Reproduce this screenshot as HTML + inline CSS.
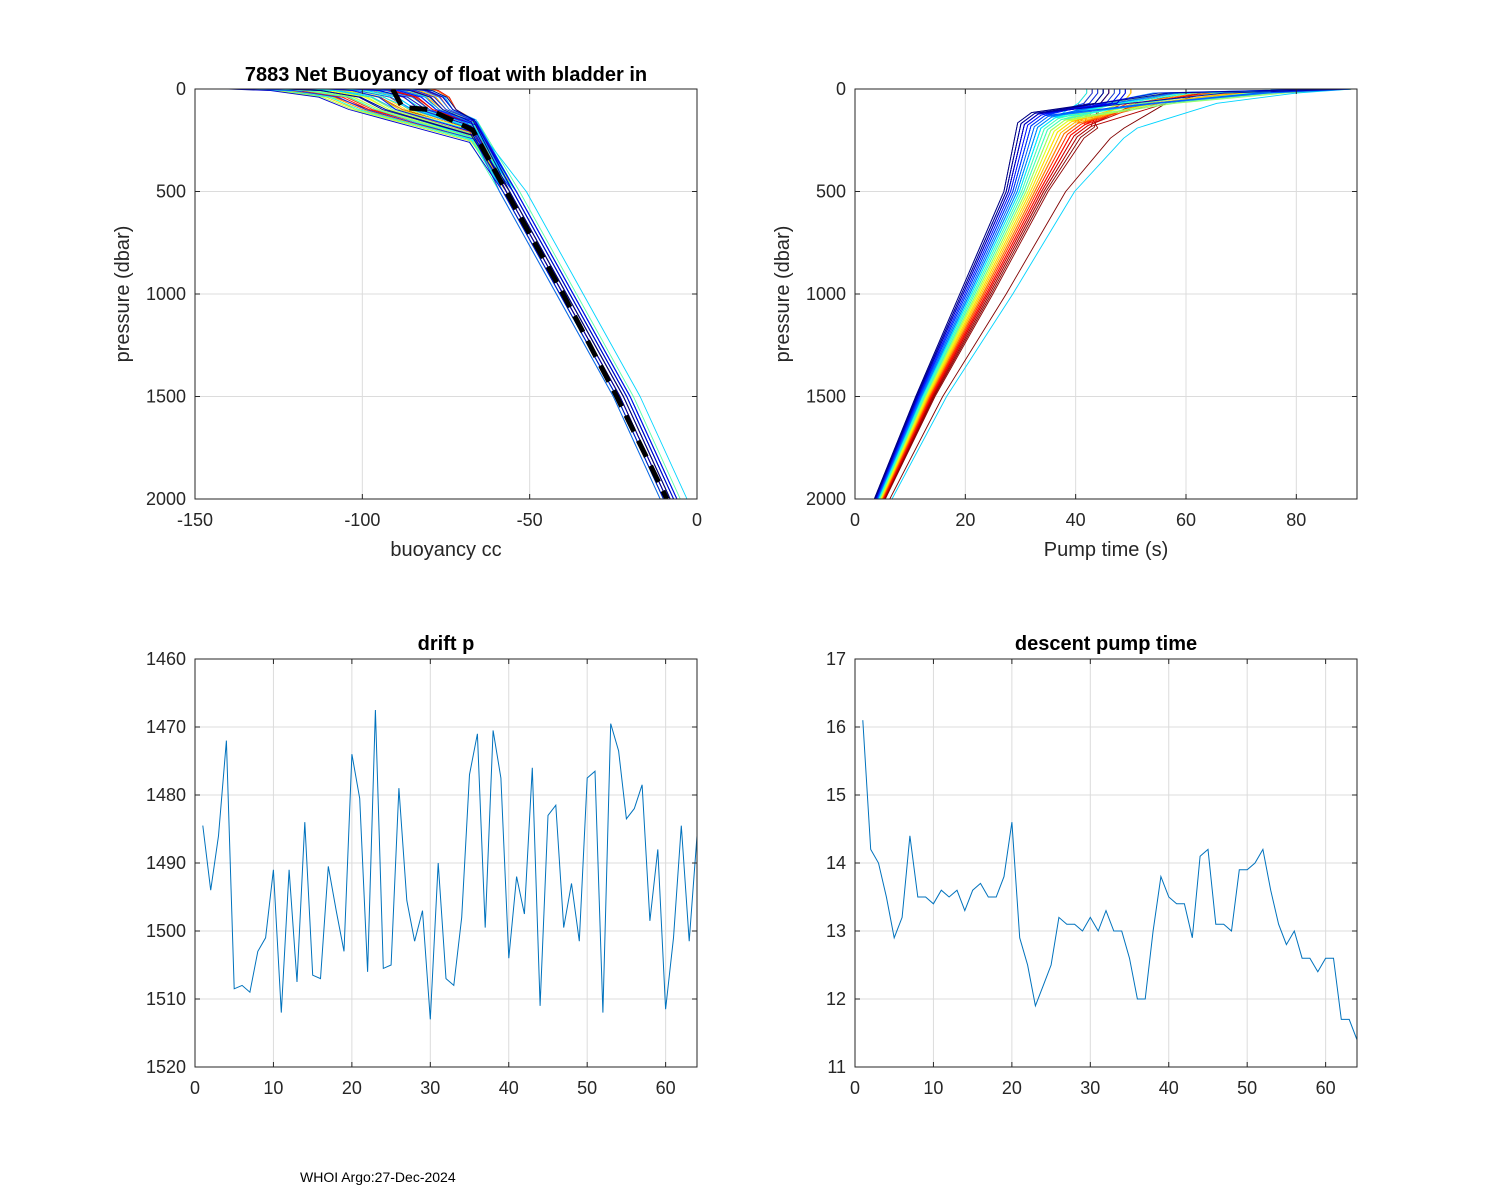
<!DOCTYPE html>
<html><head><meta charset="utf-8">
<style>
body{margin:0;background:#fff;}
svg{display:block;font-family:"Liberation Sans",Arial,sans-serif;}
</style></head>
<body>
<svg id="fig" width="1500" height="1200" viewBox="0 0 1500 1200" xmlns="http://www.w3.org/2000/svg">
<rect width="1500" height="1200" fill="#fff"/>
<text x="300" y="1182" font-size="14" fill="#000">WHOI Argo:27-Dec-2024</text>
</svg>
<script>
// ---------- data ----------
const cycles = Array.from({length:64},(_,i)=>i+1);
const driftP = [1484.5,1494,1486,1472,1508.5,1508,1509,1503,1501,1491,1512,1491,1507.5,1484,1506.5,1507,1490.5,1497,1503,1474,1480.5,1506,1467.5,1505.5,1505,1479,1495.5,1501.5,1497,1513,1490,1507,1508,1498,1477,1471,1499.5,1470.5,1477.5,1504,1492,1497.5,1476,1511,1483,1481.5,1499.5,1493,1501.5,1477.5,1476.5,1512,1469.5,1473.5,1483.5,1482,1478.5,1498.5,1488,1511.5,1501,1484.5,1501.5,1486];
const descentPump = [16.1,14.2,14.0,13.5,12.9,13.2,14.4,13.5,13.5,13.4,13.6,13.5,13.6,13.3,13.6,13.7,13.5,13.5,13.8,14.6,12.9,12.5,11.9,12.2,12.5,13.2,13.1,13.1,13.0,13.2,13.0,13.3,13.0,13.0,12.6,12.0,12.0,13.0,13.8,13.5,13.4,13.4,12.9,14.1,14.2,13.1,13.1,13.0,13.9,13.9,14.0,14.2,13.6,13.1,12.8,13.0,12.6,12.6,12.4,12.6,12.6,11.7,11.7,11.4];
// per-profile colour index (0..63 in jet)
const colorIdx = [60,22,45,8,33,55,14,40,27,63,5,50,19,36,58,11,43,30,2,48,25,61,16,38,53,9,31,57,20,46,3,41,24,62,13,51,35,6,44,28,59,17,39,0,52,23,47,10,34,56,15,42,29,1,49,26,54,12,37,4,32,7,21,63];
// buoyancy profile parameters
const buoySurf = [-138,-120,-95,-110,-130,-85,-100,-125,-90,-115,-140,-105,-82,-118,-97,-132,-88,-108,-122,-93,-136,-112,-86,-102,-128,-95,-117,-80,-106,-134,-91,-113,-124,-98,-84,-119,-139,-101,-87,-127,-109,-94,-121,-83,-133,-104,-116,-89,-126,-99,-111,-137,-92,-123,-81,-107,-130,-96,-114,-85,-129,-103,-118,-90];
const buoy100 = [-98,-85,-76,-90,-102,-74,-80,-95,-78,-88,-104,-82,-73,-92,-79,-99,-75,-86,-94,-77,-101,-89,-74,-81,-97,-78,-91,-72,-84,-100,-76,-87,-93,-80,-73,-90,-103,-83,-75,-96,-86,-77,-92,-72,-99,-82,-88,-75,-95,-79,-85,-102,-76,-93,-72,-84,-98,-78,-89,-73,-96,-81,-90,-76];
const bendPres = [230,190,160,210,250,150,170,240,165,200,260,180,150,220,170,245,155,195,225,165,255,205,150,175,235,160,215,150,185,250,160,205,230,170,150,215,260,180,155,240,195,165,225,150,245,180,210,155,235,170,190,255,160,225,150,185,240,165,205,150,235,175,215,160];
const deepOff = [-1,1,-2,0,2,-1,-3,1,0,2,-2,-1,2,-2,0,1,-2,2,-1,0,2,-2,1,-1,0,2,-2,-3,1,0,-1,2,-2,0,1,-2,2,-1,0,-3,2,1,-2,0,-1,2,-2,1,0,2,-2,-1,3,0,1,-2,2,-1,0,1,-2,2,5,-1];
// pump time profile parameters
const pumpTop = [90,45,88,48,90,44,86,50,90,46,85,43,90,47,88,45,90,49,87,42,90,46,84,48,90,44,89,50,86,45,90,47,88,43,90,46,85,49,90,44,87,48,90,45,86,42,90,47,88,50,90,44,85,46,90,48,87,43,90,45,86,49,90,90];
const pump20 = [70,45,62,48,78,44,58,50,66,46,55,43,74,47,60,45,68,49,57,42,72,46,54,48,64,44,76,50,59,45,67,47,61,43,73,46,56,49,69,44,63,48,71,45,58,42,65,47,60,50,75,44,55,46,70,48,62,43,66,45,57,49,80,64];
const pumpSlow = [0.9,0.35,0.6,0.05,0.5,0.8,0.25,0.55,0.45,0.95,0.1,0.7,0.2,0.5,0.85,0.2,0.65,0.4,0.0,0.7,0.35,0.9,0.3,0.5,0.75,0.15,0.45,0.8,0.3,0.65,0.05,0.6,0.3,1.0,0.2,0.7,0.5,0.1,0.6,0.4,0.85,0.3,0.55,0.0,0.75,0.35,0.7,0.15,0.5,0.8,0.25,0.6,0.4,0.05,0.7,0.35,0.8,0.2,0.55,0.1,0.45,0.1,1.6,1.4];
const meanPres = [0,90,100,200,500,1000,1500,2000];
const meanBuoy = [-91,-88,-80,-67,-57,-40,-24,-9];

// ---------- helpers ----------
const NS="http://www.w3.org/2000/svg";
const svg=document.getElementById('fig');
function mk(tag,attrs,parent){const e=document.createElementNS(NS,tag);for(const k in attrs)e.setAttribute(k,attrs[k]);(parent||svg).appendChild(e);return e;}
function jet(t){const r=Math.min(Math.max(Math.min(4*t-1.5,-4*t+4.5),0),1);const g=Math.min(Math.max(Math.min(4*t-0.5,-4*t+3.5),0),1);const b=Math.min(Math.max(Math.min(4*t+0.5,-4*t+2.5),0),1);return `rgb(${Math.round(r*255)},${Math.round(g*255)},${Math.round(b*255)})`;}
const drawOrder = colorIdx.map((c,i)=>i).sort((a,b)=>colorIdx[b]-colorIdx[a]);

function makeAxes(name,L,T,R,B,xmin,xmax,ymin,ymax,xticks,yticks,yRev){
  const g=mk('g',{});
  
  
  const sx=v=>L+(v-xmin)/(xmax-xmin)*(R-L);
  const sy=yRev?(v=>T+(v-ymin)/(ymax-ymin)*(B-T)):(v=>B-(v-ymin)/(ymax-ymin)*(B-T));
  const grid=mk('g',{stroke:'#dcdcdc','stroke-width':1},g);
  
  
  xticks.forEach(v=>mk('line',{x1:sx(v),x2:sx(v),y1:T,y2:B},grid));
  yticks.forEach(v=>mk('line',{x1:L,x2:R,y1:sy(v),y2:sy(v)},grid));
  const plot=mk('g',{},g);
  
  
  const clipId=name+'-clip';
  const cp=mk('clipPath',{id:clipId},g);mk('rect',{x:L,y:T,width:R-L,height:B-T},cp);
  plot.setAttribute('clip-path',`url(#${clipId})`);
  const frame=mk('g',{stroke:'#262626','stroke-width':1,fill:'none'},g);
  
  
  mk('rect',{x:L,y:T,width:R-L,height:B-T},frame);
  const tl=5;
  xticks.forEach(v=>{const x=sx(v);mk('line',{x1:x,x2:x,y1:B,y2:B-tl},frame);mk('line',{x1:x,x2:x,y1:T,y2:T+tl},frame);
    const t=mk('text',{x:x,y:B+27,'font-size':18,'text-anchor':'middle',fill:'#262626'},g);t.textContent=v;
    });
  yticks.forEach(v=>{const y=sy(v);mk('line',{x1:L,x2:L+tl,y1:y,y2:y},frame);mk('line',{x1:R,x2:R-tl,y1:y,y2:y},frame);
    const t=mk('text',{x:L-9,y:y+6,'font-size':18,'text-anchor':'end',fill:'#262626'},g);t.textContent=v;
    });
  return {g,plot,sx,sy};
}
function label(txt,x,y,size,name,opts){const t=mk('text',Object.assign({x:x,y:y,'font-size':size,'text-anchor':'middle',fill:'#262626'},opts||{}));t.textContent=txt;return t;}

// ---------- top-left: buoyancy ----------
const A1=makeAxes('buoyancy-axes',195,89,697,499,-150,0,0,2000,[-150,-100,-50,0],[0,500,1000,1500,2000],true);
drawOrder.forEach(i=>{
  const b0=buoySurf[i], b1=buoy100[i], pB=bendPres[i], d=deepOff[i];
  const pres=[0,8,40,100,pB,500,1000,1500,2000];
  const vals=[b0,b0+(b1-b0)*0.35,b0+(b1-b0)*0.75,b1,-67+d*0.5,-56+d,-39+d,-22+d,-8+d];
  const pts=pres.map((p,k)=>`${A1.sx(vals[k]).toFixed(1)},${A1.sy(p).toFixed(1)}`).join(' ');
  const pl=mk('polyline',{points:pts,fill:'none',stroke:jet(colorIdx[i]/63),'stroke-width':0.9,'stroke-linejoin':'round'},A1.plot);
  
  
});
{const pts=meanPres.map((p,k)=>`${A1.sx(meanBuoy[k]).toFixed(1)},${A1.sy(p).toFixed(1)}`).join(' ');
 const pl=mk('polyline',{points:pts,fill:'none',stroke:'#000','stroke-width':5,'stroke-dasharray':'18,10'},A1.plot);
 }
label('7883 Net Buoyancy of float with bladder in',446,81,20,'buoyancy-title',{'font-weight':'bold',fill:'#000'});
label('buoyancy cc',446,556,20,'buoyancy-x-axis-title');
label('pressure (dbar)',0,0,20,'buoyancy-y-axis-title',{transform:'translate(129,294) rotate(-90)'});

// ---------- top-right: pump time ----------
const A2=makeAxes('pump-time-axes',855,89,1357,499,0,91,0,2000,[0,20,40,60,80],[0,500,1000,1500,2000],true);
drawOrder.forEach(i=>{
  const a=pumpSlow[i], s=pump20[i], t0=pumpTop[i];
  const pB=115+75*Math.min(a,1), tb=32+12*a;
  const pres=[0,20,70,pB,pB+50,500,1000,1500,2000];
  const v70 = s<=50 ? s-1.5 : Math.max(tb+5,(s+tb)/2);
  const vals=[t0,s,v70,tb,tb-2.5,27+8*a,19+6*a,11+3.5*a,3.5+2*a];
  const pts=pres.map((p,k)=>`${A2.sx(vals[k]).toFixed(1)},${A2.sy(p).toFixed(1)}`).join(' ');
  const pl=mk('polyline',{points:pts,fill:'none',stroke:jet(colorIdx[i]/63),'stroke-width':0.9,'stroke-linejoin':'round'},A2.plot);
  
  
});
label('Pump time (s)',1106,556,20,'pump-time-x-axis-title');
label('pressure (dbar)',0,0,20,'pump-time-y-axis-title',{transform:'translate(789,294) rotate(-90)'});

// ---------- bottom-left: drift p ----------
const A3=makeAxes('drift-p-axes',195,659,697,1067,0,64,1460,1520,[0,10,20,30,40,50,60],[1460,1470,1480,1490,1500,1510,1520],true);
{const pts=cycles.map((c,i)=>`${A3.sx(c).toFixed(1)},${A3.sy(driftP[i]).toFixed(1)}`).join(' ');
 const pl=mk('polyline',{points:pts,fill:'none',stroke:'#0072BD','stroke-width':1},A3.plot);
 }
label('drift p',446,650,20,'drift-p-title',{'font-weight':'bold',fill:'#000'});

// ---------- bottom-right: descent pump time ----------
const A4=makeAxes('descent-pump-axes',855,659,1357,1067,0,64,11,17,[0,10,20,30,40,50,60],[11,12,13,14,15,16,17],false);
{const pts=cycles.map((c,i)=>`${A4.sx(c).toFixed(1)},${A4.sy(descentPump[i]).toFixed(1)}`).join(' ');
 const pl=mk('polyline',{points:pts,fill:'none',stroke:'#0072BD','stroke-width':1},A4.plot);
 }
label('descent pump time',1106,650,20,'descent-pump-title',{'font-weight':'bold',fill:'#000'});
</script>
</body></html>
